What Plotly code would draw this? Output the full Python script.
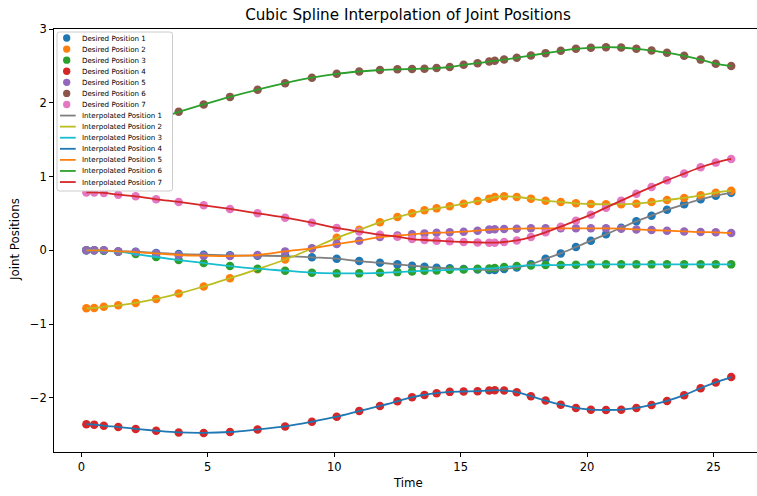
import plotly.graph_objects as go

# ---------------- data ----------------
time = [0.2, 0.51, 0.89, 1.46, 2.15, 2.96, 3.85, 4.84, 5.88, 6.97, 8.06, 9.12, 10.1, 10.99,
        11.81, 12.5, 13.08, 13.57, 14.05, 14.57, 15.12, 15.67, 16.13, 16.35, 16.72, 17.22,
        17.78, 18.36, 18.96, 19.56, 20.15, 20.75, 21.35, 21.95, 22.55, 23.16, 23.84, 24.49,
        25.09, 25.7]

joint1 = [0.0, 0.0, -0.003, -0.014, -0.018, -0.036, -0.05, -0.059, -0.068, -0.072, -0.077,
          -0.095, -0.113, -0.145, -0.168, -0.19, -0.209, -0.222, -0.236, -0.244, -0.253,
          -0.258, -0.267, -0.267, -0.253, -0.231, -0.19, -0.113, -0.041, 0.045, 0.131,
          0.217, 0.307, 0.393, 0.47, 0.551, 0.624, 0.692, 0.741, 0.782]
joint2 = [-0.785, -0.78, -0.765, -0.745, -0.712, -0.658, -0.585, -0.49, -0.377, -0.255,
          -0.124, 0.025, 0.17, 0.278, 0.38, 0.452, 0.502, 0.542, 0.569, 0.597, 0.633, 0.669,
          0.701, 0.723, 0.732, 0.723, 0.701, 0.673, 0.655, 0.637, 0.628, 0.624, 0.626, 0.633,
          0.655, 0.682, 0.71, 0.746, 0.782, 0.809]
joint3 = [0.0, 0.0, -0.005, -0.018, -0.05, -0.09, -0.131, -0.172, -0.213, -0.249, -0.276,
          -0.303, -0.312, -0.312, -0.305, -0.295, -0.285, -0.276, -0.272, -0.263, -0.258,
          -0.249, -0.245, -0.24, -0.226, -0.213, -0.204, -0.199, -0.199, -0.195, -0.19,
          -0.19, -0.19, -0.19, -0.19, -0.19, -0.19, -0.19, -0.19, -0.19]
joint4 = [-2.356, -2.362, -2.378, -2.395, -2.42, -2.445, -2.468, -2.474, -2.462, -2.427,
          -2.386, -2.323, -2.255, -2.178, -2.109, -2.045, -1.99, -1.959, -1.936, -1.918,
          -1.913, -1.909, -1.9, -1.895, -1.9, -1.922, -1.977, -2.036, -2.091, -2.136,
          -2.159, -2.164, -2.159, -2.136, -2.095, -2.041, -1.963, -1.868, -1.79, -1.718]
joint5 = [0.0, 0.0, 0.0, -0.014, -0.023, -0.041, -0.063, -0.072, -0.077, -0.063, -0.014,
          0.027, 0.085, 0.131, 0.18, 0.2, 0.217, 0.23, 0.239, 0.244, 0.253, 0.267, 0.281,
          0.285, 0.289, 0.294, 0.298, 0.298, 0.298, 0.298, 0.298, 0.298, 0.294, 0.284,
          0.275, 0.266, 0.257, 0.248, 0.244, 0.235]
joint6 = [1.571, 1.574, 1.585, 1.615, 1.67, 1.765, 1.877, 1.978, 2.08, 2.177, 2.266, 2.34,
          2.392, 2.424, 2.444, 2.453, 2.458, 2.462, 2.471, 2.485, 2.514, 2.537, 2.559, 2.569,
          2.586, 2.609, 2.641, 2.673, 2.704, 2.731, 2.745, 2.754, 2.749, 2.731, 2.708,
          2.679, 2.636, 2.585, 2.53, 2.497]
joint7 = [0.785, 0.785, 0.778, 0.755, 0.733, 0.692, 0.656, 0.611, 0.561, 0.502, 0.443,
          0.375, 0.303, 0.255, 0.212, 0.185, 0.153, 0.14, 0.131, 0.122, 0.113, 0.108, 0.104,
          0.104, 0.113, 0.135, 0.18, 0.244, 0.321, 0.402, 0.484, 0.579, 0.673, 0.768, 0.859,
          0.949, 1.04, 1.126, 1.189, 1.239]

desired = [joint1, joint2, joint3, joint4, joint5, joint6, joint7]
desired_names = [f"Desired Position {i}" for i in range(1, 8)]
interp_names = [f"Interpolated Position {i}" for i in range(1, 8)]
desired_colors = ['#1f77b4', '#ff7f0e', '#2ca02c', '#d62728', '#9467bd', '#8c564b', '#e377c2']
interp_colors = ['#7f7f7f', '#bcbd22', '#17becf', '#1f77b4', '#ff7f0e', '#2ca02c', '#d62728']
x_ticks = [0, 5, 10, 15, 20, 25]
y_ticks = [-2, -1, 0, 1, 2, 3]

# ---------------- layout geometry ----------------
W, H = 757, 496
L, R, T, B = 54, 0, 29, 44
PW, PH = W - L - R, H - T - B
FONT = "DejaVu Sans"


def px(xp):
    return (xp - L) / PW


def py(yp):
    return (H - B - yp) / PH


fig = go.Figure()
for ys, c, n in zip(desired, desired_colors, desired_names):
    fig.add_trace(go.Scatter(x=time, y=ys, mode='markers', name=n, showlegend=False,
                             marker=dict(size=8.5, color=c, line=dict(width=0))))
for ys, c, n in zip(desired, interp_colors, interp_names):
    fig.add_trace(go.Scatter(x=time, y=ys, mode='lines', name=n, showlegend=False,
                             line=dict(color=c, width=1.8, shape='spline', smoothing=1)))

# ---------------- custom legend (matplotlib-like, compact) ----------------
shapes = []
annotations = []
bx0, bx1, by0, by1 = 57, 172.5, 32, 191
r = 2.5
x0, x1 = px(bx0), px(bx1)
y0, y1 = py(by1), py(by0)
rx, ry = r / PW, r / PH
path = (f"M {x0+rx},{y0} L {x1-rx},{y0} Q {x1},{y0} {x1},{y0+ry} "
        f"L {x1},{y1-ry} Q {x1},{y1} {x1-rx},{y1} L {x0+rx},{y1} Q {x0},{y1} {x0},{y1-ry} "
        f"L {x0},{y0+ry} Q {x0},{y0} {x0+rx},{y0} Z")
shapes.append(dict(type='path', xref='paper', yref='paper', path=path,
                   fillcolor='white', line=dict(color='#cccccc', width=1),
                   layer='above'))
row0, step = 38, 11.08
all_names = desired_names + interp_names
for k, name in enumerate(all_names):
    yc = row0 + k * step
    if k < 7:
        d = 7.3
        shapes.append(dict(type='circle', xref='paper', yref='paper',
                           x0=px(66.7 - d / 2), x1=px(66.7 + d / 2),
                           y0=py(yc + d / 2), y1=py(yc - d / 2),
                           fillcolor=desired_colors[k], line=dict(width=0), layer='above'))
    else:
        shapes.append(dict(type='line', xref='paper', yref='paper',
                           x0=px(60), x1=px(75.7), y0=py(yc), y1=py(yc),
                           line=dict(color=interp_colors[k - 7], width=1.8), layer='above'))
    annotations.append(dict(text=name, xref='paper', yref='paper', x=px(80.2), y=py(yc),
                            xanchor='left', yanchor='middle', showarrow=False,
                            font=dict(family=FONT, size=7.1, color='black')))

# axis titles
annotations.append(dict(text="Time", xref='paper', yref='paper', x=px(408), y=py(483),
                        xanchor='center', yanchor='middle', showarrow=False,
                        font=dict(family=FONT, size=11.8, color='black')))
annotations.append(dict(text="Joint Positions", xref='paper', yref='paper', x=px(15),
                        y=py(240), xanchor='center', yanchor='middle', showarrow=False,
                        textangle=-90, font=dict(family=FONT, size=11.8, color='black')))

fig.update_layout(
    width=W, height=H,
    margin=dict(l=L, r=R, t=T, b=B, pad=0),
    paper_bgcolor='white', plot_bgcolor='white',
    showlegend=False,
    title=dict(text="Cubic Spline Interpolation of Joint Positions",
               x=408 / W, xref='container', xanchor='center',
               y=1 - 15 / H, yref='container', yanchor='middle',
               font=dict(family=FONT, size=15.2, color='black')),
    shapes=shapes, annotations=annotations,
    xaxis=dict(range=[-1.08, 26.72], tickvals=x_ticks, showgrid=False, zeroline=False,
               showline=True, linecolor='black', linewidth=0.9, mirror=True,
               ticks='outside', ticklen=4, tickwidth=0.9, tickcolor='black',
               tickfont=dict(family=FONT, size=11.5, color='black')),
    yaxis=dict(range=[-2.733, 3.0], tickvals=y_ticks, showgrid=False, zeroline=False,
               showline=True, linecolor='black', linewidth=0.9,
               ticks='outside', ticklen=4, tickwidth=0.9, tickcolor='black',
               tickfont=dict(family=FONT, size=11.5, color='black')),
)

fig.write_html("out.html")
